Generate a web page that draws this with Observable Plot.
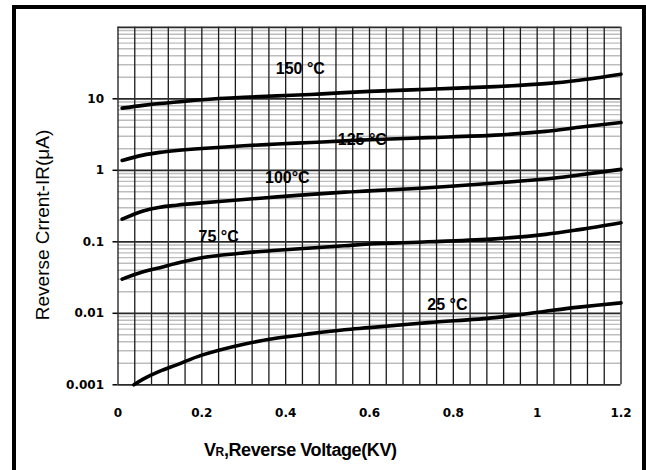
<!DOCTYPE html>
<html><head><meta charset="utf-8">
<script src="https://cdn.jsdelivr.net/npm/d3@7"></script>
<script src="https://cdn.jsdelivr.net/npm/@observablehq/plot@0.6"></script>
<style>
body{margin:0;background:#fff;width:646px;height:470px;overflow:hidden;position:relative;font-family:"Liberation Sans",Arial,sans-serif}
#chart{position:absolute;left:0;top:0}
#frame{position:absolute;left:12px;top:5px;width:634px;height:480px;border:4px solid #000;box-sizing:border-box;pointer-events:none}
#xt{position:absolute;left:204px;top:440px;font-weight:bold;font-size:18px;letter-spacing:-0.4px;white-space:nowrap;color:#000}
#xt span{font-size:12px}
#yt{position:absolute;left:43px;top:225px;transform:translate(-50%,-50%) rotate(-90deg);font-size:19px;white-space:nowrap;color:#000}
</style></head>
<body>
<div id="chart"></div>
<div id="frame"></div>
<div id="xt">V<span>R</span>,Reverse Voltage(KV)</div>
<div id="yt">Reverse Crrent-IR(μA)</div>
<script>
// Data
const voltage   = [0.01, 0.06, 0.1, 0.14, 0.2, 0.3, 0.38, 0.46, 0.54, 0.6, 0.74, 0.9, 1.02, 1.1, 1.2];
const voltage25 = [0.038, 0.06, 0.1, 0.14, 0.2, 0.3, 0.38, 0.46, 0.54, 0.6, 0.74, 0.9, 1.02, 1.1, 1.2];
const ir150 = [7.4, 8.1, 8.6, 9.0, 9.7, 10.5, 11.0, 11.5, 12.2, 12.7, 13.6, 14.8, 16.3, 18.2, 22.1];
const ir125 = [1.37, 1.63, 1.78, 1.89, 2.02, 2.2, 2.33, 2.45, 2.58, 2.68, 2.86, 3.1, 3.5, 4.0, 4.66];
const ir100 = [0.207, 0.27, 0.305, 0.325, 0.35, 0.39, 0.425, 0.46, 0.495, 0.515, 0.57, 0.665, 0.755, 0.86, 1.03];
const ir75  = [0.030, 0.038, 0.0435, 0.05, 0.06, 0.07, 0.076, 0.082, 0.088, 0.093, 0.100, 0.11, 0.127, 0.148, 0.185];
const ir25  = [0.001, 0.0012, 0.00155, 0.0019, 0.0026, 0.0037, 0.0045, 0.0052, 0.0059, 0.0063, 0.0074, 0.0087, 0.0107, 0.0122, 0.014];

const seriesNames = ["150 °C", "125 °C", "100°C", "75 °C", "25 °C"];
const labelX = [0.435, 0.583, 0.404, 0.24, 0.786];
const labelY = [26.5, 2.7, 0.79, 0.119, 0.0133];

const xTicks = [0, 0.2, 0.4, 0.6, 0.8, 1, 1.2];
const xTickLabels = ["0", "0.2", "0.4", "0.6", "0.8", "1", "1.2"];
const yTicks = [0.001, 0.01, 0.1, 1, 10];
const yTickLabels = ["0.001", "0.01", "0.1", "1", "10"];
const decades = [0.001, 0.01, 0.1, 1, 10, 100];
const minorSteps = [2, 3, 4, 5, 6, 7, 8, 9];
const xGridStep = 0.04;

// Build tables
const rows = [];
const add = (name, xs, ys) => xs.forEach((v, i) => rows.push({t: name, v, i: ys[i]}));
add(seriesNames[0], voltage, ir150);
add(seriesNames[1], voltage, ir125);
add(seriesNames[2], voltage, ir100);
add(seriesNames[3], voltage, ir75);
add(seriesNames[4], voltage25, ir25);
const labels = seriesNames.map((t, k) => ({t, x: labelX[k], y: labelY[k]}));

const minorTicks = decades.slice(0, -1).flatMap(d => minorSteps.map(k => +(k * d).toPrecision(3)));
const xGrid = d3.range(0, 31).map(k => +(k * xGridStep).toFixed(2));
const xLab = new Map(xTicks.map((d, i) => [d, xTickLabels[i]]));
const yLab = new Map(yTicks.map((d, i) => [d, yTickLabels[i]]));

const plot = Plot.plot({
  width: 646, height: 470,
  marginLeft: 117.5, marginRight: 25.5, marginTop: 26.8, marginBottom: 85.7,
  style: {fontFamily: "'DejaVu Sans'", fontSize: "12px", fontWeight: "bold", color: "#000", background: "transparent"},
  x: {domain: [0, 1.2]},
  y: {type: "log", domain: [0.001, 100]},
  marks: [
    Plot.gridY(minorTicks, {stroke: "#bdbdbd", strokeOpacity: 1, strokeWidth: 1.4}),
    Plot.gridX(xGrid, {stroke: "#1a1a1a", strokeOpacity: 1, strokeWidth: 1.3}),
    Plot.gridY(decades, {stroke: "#2a2a2a", strokeOpacity: 1, strokeWidth: 1.7}),
    Plot.axisY(yTicks, {tickSize: 5, tickPadding: 9, strokeWidth: 1.5, tickFormat: d => yLab.get(d), label: null}),
    Plot.axisX(xTicks, {tickSize: 0, tickPadding: 24, tickFormat: d => xLab.get(d), label: null}),
    Plot.line(rows, {x: "v", y: "i", z: "t", stroke: "#000", strokeWidth: 3.6, curve: "catmull-rom"}),
    Plot.text(labels, {x: "x", y: "y", text: "t", fontSize: 16, fontWeight: "bold", fontFamily: "'Liberation Sans'", fill: "#000"})
  ]
});
document.getElementById("chart").appendChild(plot);
</script>
</body></html>
